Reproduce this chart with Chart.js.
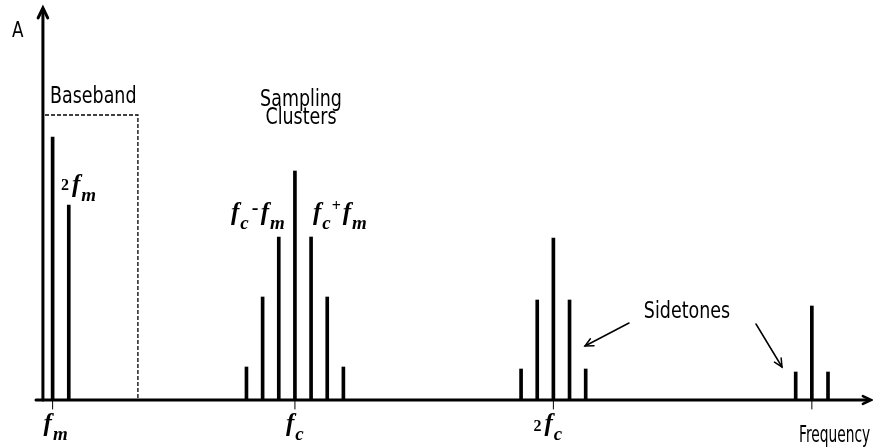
<!DOCTYPE html>
<html>
<head>
<meta charset="utf-8">
<script src="https://cdn.jsdelivr.net/npm/chart.js@4.4.1/dist/chart.umd.min.js"></script>
<style>
  body { margin: 0; background: #fff; }
  canvas { display: block; }
</style>
</head>
<body>
<canvas id="spectrum" width="873" height="448"></canvas>
<script>
// spike positions, in multiples of fm (fc = 16 fm)
var freqs = [1, 2, 13, 14, 15, 16, 17, 18, 19, 30, 31, 32, 33, 34, 47, 48, 49];
var amps = [263, 195, 33, 103, 163, 229, 163, 103, 33, 31, 100, 162, 100, 31, 28, 94, 28];
// baseband box (dashed)
var boxX = [0.53, 6.28, 6.28];
var boxY = [285, 285, 0];
// ticks under the frequency axis
var tickValues = [1, 16, 32, 48];
var tickLabels = ['fm', 'fc', '2fc', ''];

var TXT = '"DejaVu Sans", sans-serif';
var MATH = '"Liberation Serif", "DejaVu Serif", serif';

// narrow text, squeezed horizontally
function narrow(ctx, text, x, y, size, sx, align) {
	ctx.save();
	ctx.font = size + 'px ' + TXT;
	ctx.textAlign = align || 'left';
	ctx.translate(x, y);
	ctx.scale(sx, 1);
	ctx.fillText(text, 0, 0);
	ctx.restore();
}

function mathF(ctx, x, y, sub, size) {
	ctx.font = 'italic bold ' + size + 'px ' + MATH;
	ctx.fillText('f', x, y);
	var w = ctx.measureText('f').width;
	ctx.font = 'italic bold ' + Math.round(size * 0.75) + 'px ' + MATH;
	ctx.fillText(sub, x + w + 1, y + size * 0.35);
	return w + 1 + ctx.measureText(sub).width;
}

function arrowHead(ctx, x, y, ang, len) {
	ctx.beginPath();
	ctx.moveTo(x - len * Math.cos(ang - 0.45), y - len * Math.sin(ang - 0.45));
	ctx.lineTo(x, y);
	ctx.lineTo(x - len * Math.cos(ang + 0.45), y - len * Math.sin(ang + 0.45));
	ctx.stroke();
}

var drawing = {
	id: 'drawing',
	afterDraw: function(chart) {
		var ctx = chart.ctx;
		var xs = chart.scales.x, ys = chart.scales.y;
		var y0 = ys.getPixelForValue(0);
		var ax = xs.getPixelForValue(0.4);
		ctx.save();
		ctx.strokeStyle = '#000';
		ctx.fillStyle = '#000';
		ctx.lineCap = 'round';

		// axes
		ctx.lineWidth = 3;
		ctx.beginPath();
		ctx.moveTo(36, y0);
		ctx.lineTo(869, y0);
		ctx.stroke();
		ctx.beginPath();
		ctx.moveTo(ax, y0);
		ctx.lineTo(ax, 9);
		ctx.stroke();
		arrowHead(ctx, ax, 8, -Math.PI / 2, 11);
		ctx.lineWidth = 2.5;
		arrowHead(ctx, 871, y0, 0, 9);

		// tick marks and labels
		ctx.lineWidth = 1;
		ctx.textBaseline = 'alphabetic';
		for (var i = 0; i < tickValues.length; i++) {
			var px = xs.getPixelForValue(tickValues[i]);
			ctx.beginPath();
			ctx.moveTo(px, y0);
			ctx.lineTo(px, y0 + 9);
			ctx.stroke();
			var lab = tickLabels[i];
			if (!lab) continue;
			var lx = px - 9;
			if (lab.charAt(0) == '2') {
				ctx.font = 'bold 16px ' + MATH;
				ctx.fillText('2', lx - 11, 431);
			}
			mathF(ctx, lx, 431, lab.charAt(lab.length - 1), 25);
		}

		// text labels
		narrow(ctx, 'A', 12, 37, 21, 0.8);
		narrow(ctx, 'Baseband', 50, 103, 23, 0.76);
		narrow(ctx, 'Sampling', 301, 106, 23, 0.76, 'center');
		narrow(ctx, 'Clusters', 301, 124, 23, 0.76, 'center');
		narrow(ctx, 'Sidetones', 687, 318, 23, 0.76, 'center');
		narrow(ctx, 'Frequency', 799, 442, 23, 0.6);
		ctx.textAlign = 'left';

		// 2fm
		ctx.font = 'bold 16px ' + MATH;
		ctx.fillText('2', 61, 190);
		mathF(ctx, 72, 192, 'm', 25);
		// fc - fm
		var w = mathF(ctx, 231, 220, 'c', 25);
		ctx.font = 'bold 20px ' + MATH;
		ctx.fillText('-', 231 + w + 3, 214);
		mathF(ctx, 231 + w + 12, 220, 'm', 25);
		// fc + fm
		w = mathF(ctx, 313, 220, 'c', 25);
		ctx.font = 'bold 16px ' + MATH;
		ctx.fillText('+', 313 + w + 1, 211);
		mathF(ctx, 313 + w + 12, 220, 'm', 25);

		// sidetone arrows
		ctx.lineWidth = 1.5;
		ctx.beginPath();
		ctx.moveTo(629, 323);
		ctx.lineTo(585, 346);
		ctx.stroke();
		arrowHead(ctx, 585, 346, Math.atan2(23, -44), 9);
		ctx.beginPath();
		ctx.moveTo(756, 324);
		ctx.lineTo(782, 367);
		ctx.stroke();
		arrowHead(ctx, 782, 367, Math.atan2(43, 26), 9);
		ctx.restore();
	}
};

var spikes = [];
for (var i = 0; i < freqs.length; i++) spikes.push({x: freqs[i], y: amps[i]});
var box = [];
for (var j = 0; j < boxX.length; j++) box.push({x: boxX[j], y: boxY[j]});

new Chart(document.getElementById('spectrum'), {
	type: 'bar',
	data: {
		datasets: [{
			label: 'spectrum',
			data: spikes,
			backgroundColor: '#000',
			barThickness: 3
		}, {
			type: 'line',
			label: 'baseband',
			data: box,
			borderColor: '#000',
			borderWidth: 1.3,
			borderDash: [4, 2],
			pointRadius: 0,
			fill: false,
			tension: 0
		}]
	},
	options: {
		responsive: false,
		animation: false,
		layout: { padding: { left: 30, right: 3, top: 0, bottom: 48 } },
		plugins: { legend: { display: false }, tooltip: { enabled: false } },
		scales: {
			x: { type: 'linear', min: -0.4, max: 51.6, display: false, offset: false },
			y: { min: 0, max: 400, display: false }
		}
	},
	plugins: [drawing]
});
</script>
</body>
</html>
